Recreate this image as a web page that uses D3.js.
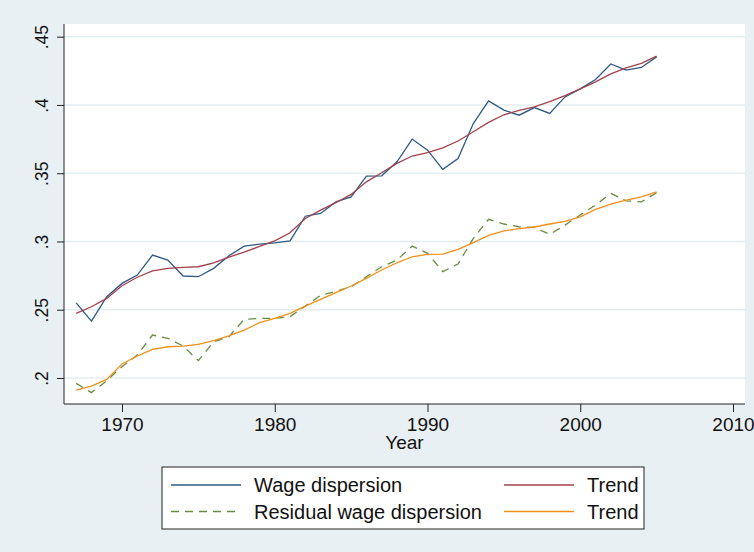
<!DOCTYPE html>
<html lang="en">

<head>
    <meta charset="UTF-8">
    <title>Wage dispersion</title>
    <script src="https://d3js.org/d3.v7.min.js"></script>
    <style>
        body {
            margin: 0;
            background: #e9f0f3;
        }

        text {
            font-family: "Liberation Sans", Arial, sans-serif;
            fill: #111;
        }

        .grid line {
            stroke: #e4edf1;
            stroke-width: 1.5;
        }

        .series {
            fill: none;
            stroke-width: 1.3;
        }
    </style>
</head>

<body>
    <script>
        // data
        var years = d3.range(1967, 2006);
        var wage = [.255, .2417, .2595, .2693, .2754, .290, .2864, .2747, .2742, .2803,
            .2895, .2966, .2981, .299, .3005, .3185, .3205, .329, .3327, .3479,
            .3481, .3584, .375, .3669, .3528, .3608, .3864, .403, .3962, .3925,
            .3981, .3938, .4059, .4118, .4187, .430, .4255, .4275, .4352];
        var wageTrend = [.2474, .2522, .2583, .2676, .2738, .2784, .2803, .281, .2815, .2844,
            .2886, .2922, .2964, .3005, .3064, .3169, .323, .3284, .3345, .3437,
            .3503, .3572, .3626, .365, .3686, .3736, .3804, .3872, .3928, .396,
            .3986, .4025, .4069, .4118, .4169, .4228, .4272, .4304, .4358];
        var resid = [.1961, .1893, .198, .2083, .2168, .2315, .2291, .2234, .2127, .2266,
            .2302, .243, .2437, .2437, .2449, .2527, .2605, .2635, .2668, .2742,
            .2815, .2864, .2966, .2913, .2779, .2835, .3023, .3162, .3128, .3108,
            .3103, .3052, .312, .3194, .3267, .3352, .3298, .329, .3357];
        var residTrend = [.1912, .1941, .199, .2103, .2161, .221, .2229, .2234, .2247, .2273,
            .2308, .2351, .2405, .2437, .2474, .2527, .2576, .2625, .2674, .273,
            .2791, .2844, .2888, .2905, .2908, .2942, .2991, .3045, .3077, .3094,
            .3106, .3128, .3148, .3181, .3235, .3274, .3303, .3327, .3364];
        var xTicks = [1970, 1980, 1990, 2000, 2010];
        var yTicks = [.2, .25, .3, .35, .4, .45];
        var yLabels = [".2", ".25", ".3", ".35", ".4", ".45"];
        var legendNames = ["Wage dispersion", "Trend", "Residual wage dispersion", "Trend"];

        var W = 754, H = 552;
        var plot = {left: 64, right: 745, top: 24, bottom: 404};

        var svg = d3.select("body").append("svg")
            .attr("width", W).attr("height", H);

        svg.append("rect")
            .attr("width", W).attr("height", H)
            .attr("fill", "#e9f0f3");

        var x = d3.scaleLinear().domain([1970, 2010]).range([122, 733]);
        var y = d3.scaleLinear().domain([.2, .45]).range([378, 36.7]);

        // plot region
        svg.append("rect")
            .attr("x", plot.left).attr("y", plot.top)
            .attr("width", plot.right - plot.left)
            .attr("height", plot.bottom - plot.top)
            .attr("fill", "white");

        svg.append("g").attr("class", "grid")
            .selectAll("line").data(yTicks).enter().append("line")
            .attr("x1", plot.left).attr("x2", plot.right)
            .attr("y1", function(d) { return y(d); })
            .attr("y2", function(d) { return y(d); });

        // axes
        var yAxis = d3.axisLeft(y).tickValues(yTicks)
            .tickFormat(function(d, i) { return yLabels[i]; })
            .tickSize(7).tickSizeOuter(0);
        var gy = svg.append("g").attr("transform", "translate(" + plot.left + ",0)").call(yAxis);
        gy.select(".domain").attr("d", "M0," + plot.top + "V" + plot.bottom).attr("stroke", "#222");
        gy.selectAll(".tick line").attr("stroke", "#222");
        gy.selectAll(".tick text")
            .attr("x", 0).attr("dy", 0)
            .attr("transform", "translate(-16,0) rotate(-90)")
            .attr("text-anchor", "middle")
            .style("font-size", "17.5px");

        var xAxis = d3.axisBottom(x).tickValues(xTicks).tickFormat(d3.format("d"))
            .tickSize(8).tickSizeOuter(0);
        var gx = svg.append("g").attr("transform", "translate(0," + plot.bottom + ")").call(xAxis);
        gx.select(".domain").attr("d", "M" + plot.left + ",0H" + plot.right).attr("stroke", "#222");
        gx.selectAll(".tick line").attr("stroke", "#222");
        gx.selectAll(".tick text").attr("y", 14).attr("dy", "0.71em").style("font-size", "19px");

        svg.append("text")
            .attr("x", (plot.left + plot.right) / 2).attr("y", 449)
            .attr("text-anchor", "middle")
            .style("font-size", "19px")
            .text("Year");

        // lines
        var series = [
            {values: wage, color: "#2e5a85", dash: null},
            {values: wageTrend, color: "#a3414b", dash: null},
            {values: resid, color: "#6a8c40", dash: "8,6"},
            {values: residTrend, color: "#f0901a", dash: null}
        ];

        var line = d3.line()
            .x(function(d, i) { return x(years[i]); })
            .y(function(d) { return y(d); });

        svg.append("g").selectAll("path").data(series).enter().append("path")
            .attr("class", "series")
            .attr("d", function(d) { return line(d.values); })
            .attr("stroke", function(d) { return d.color; })
            .attr("stroke-dasharray", function(d) { return d.dash; });

        // legend
        var legend = svg.append("g");
        legend.append("rect")
            .attr("x", 162).attr("y", 467)
            .attr("width", 482).attr("height", 62)
            .attr("fill", "white").attr("stroke", "#222").attr("stroke-width", 1);

        var slots = [
            {lx: 171, tx: 254, ly: 485},
            {lx: 504, tx: 587, ly: 485},
            {lx: 171, tx: 254, ly: 511.5},
            {lx: 504, tx: 587, ly: 511.5}
        ];
        var item = legend.selectAll("g.item").data(series).enter().append("g").attr("class", "item");
        item.append("line")
            .attr("x1", function(d, i) { return slots[i].lx; })
            .attr("x2", function(d, i) { return slots[i].lx + 70; })
            .attr("y1", function(d, i) { return slots[i].ly; })
            .attr("y2", function(d, i) { return slots[i].ly; })
            .attr("stroke", function(d) { return d.color; })
            .attr("stroke-width", 1.3)
            .attr("stroke-dasharray", function(d) { return d.dash; });
        item.append("text")
            .attr("x", function(d, i) { return slots[i].tx; })
            .attr("y", function(d, i) { return slots[i].ly; })
            .attr("dy", "0.35em")
            .style("font-size", "20px")
            .text(function(d, i) { return legendNames[i]; });
    </script>
</body>

</html>
